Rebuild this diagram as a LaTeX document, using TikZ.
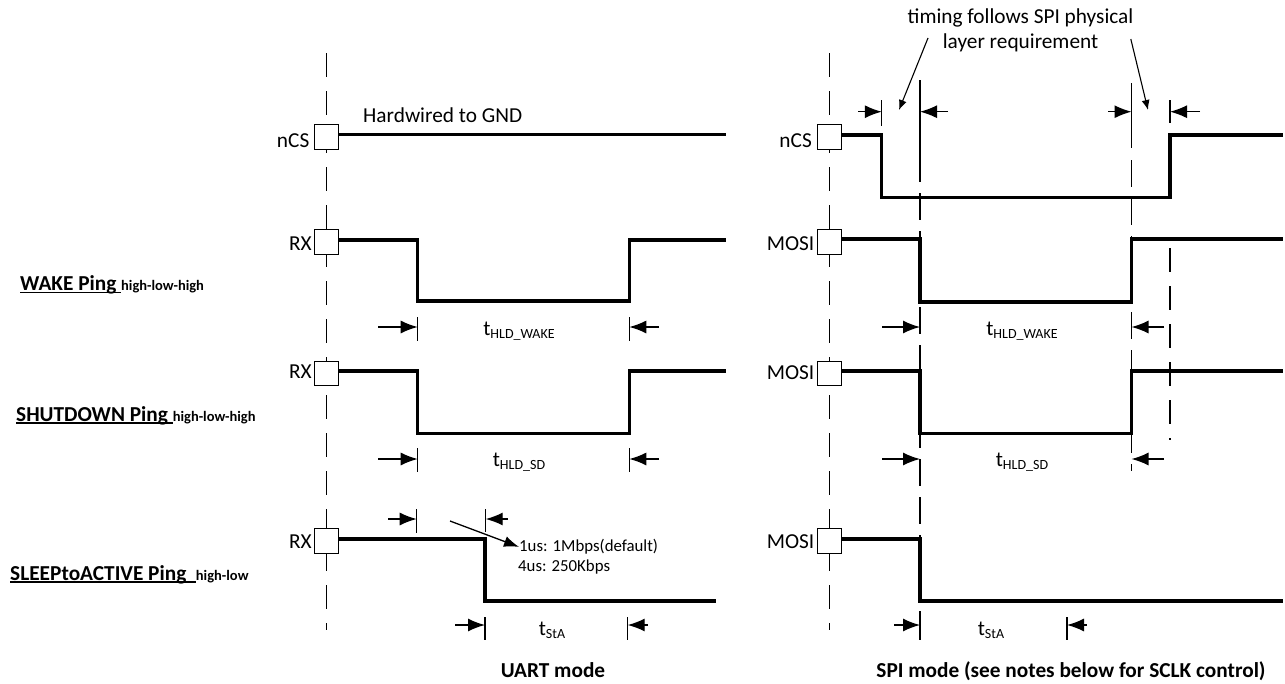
\documentclass[tikz,border=0pt]{standalone}
\usepackage{fontspec}
\setmainfont{Carlito}
\usetikzlibrary{arrows.meta}
\newsavebox\ulb
\newcommand\ulbox[1]{\sbox\ulb{#1}\rlap{\rule[-2.6pt]{\wd\ulb}{1.6pt}}\usebox\ulb}
\newcommand\tlabel[1]{t\raisebox{-3pt}{\fontsize{14}{16}\selectfont #1}}
\begin{document}
\begin{tikzpicture}[x=1pt,y=-1pt,
  sig/.style={line width=3.2pt, line join=miter},
  thinl/.style={line width=1.3pt},
  guide/.style={line width=1.3pt, dash pattern=on 24pt off 14pt},
  refl/.style={line width=1.3pt, dash pattern=on 27pt off 11pt},
  pin/.style={draw, line width=1.4pt, minimum size=24.5pt, inner sep=0pt, fill=white},
  darr/.style={line width=1.3pt, -{Latex[length=17pt,width=13pt]}},
  narr/.style={line width=1.1pt, -{Latex[length=10pt,width=8pt]}},
  every node/.style={font=\fontsize{21.3}{25.6}\selectfont, inner sep=0pt},
  bigb/.style={font=\fontsize{21.3}{25.6}\selectfont\bfseries},
]
\useasboundingbox (0,0) rectangle (1285,683);

% ---------------- guide lines ----------------
\draw[guide] (326.5,53) -- (326.5,630);
\draw[guide] (829.5,53) -- (829.5,630);
\draw[thinl] (920,80) -- (920,182);
\draw[refl] (920,193) -- (920,640);
\draw[thinl] (1131.5,83) -- (1131.5,148);
\draw[refl] (1131.5,160) -- (1131.5,471);
\draw[guide] (1170,248) -- (1170,440);

% ---------------- pins ----------------
\node[pin] (u1) at (326.5,137) {};
\node[pin] (u2) at (326.5,242) {};
\node[pin] (u3) at (326.5,373.5) {};
\node[pin] (u4) at (326.5,541) {};
\node[pin] (s1) at (829.5,137) {};
\node[pin] (s2) at (829.5,242) {};
\node[pin] (s3) at (829.5,373.5) {};
\node[pin] (s4) at (829.5,541) {};

\node[anchor=base east] (lu1) at (309.5,147) {nCS};
\node[anchor=base east] (lu2) at (312,250) {RX};
\node[anchor=base east] (lu3) at (312,378.5) {RX};
\node[anchor=base east] (lu4) at (312,548.5) {RX};
\node[anchor=base east] (ls1) at (812,147) {nCS};
\node[anchor=base east] (ls2) at (814.5,250) {MOSI};
\node[anchor=base east] (ls3) at (814.5,379) {MOSI};
\node[anchor=base east] (ls4) at (814.5,548) {MOSI};

% ---------------- UART signals ----------------
\draw[sig] (u1.east |- 0,134.5) -- (726,134.5);
\node[anchor=base west] (hw) at (363,122) {Hardwired to GND};
\draw[sig] (u2.east |- 0,240) -- (417.7,240) -- (417.7,301) -- (629.3,301) -- (629.3,240) -- (726,240);
\draw[sig] (u3.east |- 0,371) -- (417.7,371) -- (417.7,433.3) -- (629.3,433.3) -- (629.3,371) -- (726,371);
\draw[sig] (u4.east |- 0,539) -- (485,539) -- (485,601) -- (716,601);

% ---------------- SPI signals ----------------
\draw[sig] (s1.east |- 0,135) -- (881.8,135) -- (881.8,197.3) -- (1170,197.3) -- (1170,135) -- (1283,135);
\draw[sig] (s2.east |- 0,239) -- (920,239) -- (920,302) -- (1131.5,302) -- (1131.5,239) -- (1283,239);
\draw[sig] (s3.east |- 0,371) -- (920,371) -- (920,433.3) -- (1131.5,433.3) -- (1131.5,371) -- (1283,371);
\draw[sig] (s4.east |- 0,539) -- (920,539) -- (920,601) -- (1283,601);

% ---------------- ticks ----------------
\foreach \x/\a/\b in {417.7/317/341, 629.3/317/341, 417.7/448/472, 629.3/448/472,
  416.7/509/533, 485.7/509/532, 485/617/640, 627.7/617/640,
  881.8/100/126, 1170/100/123, 920/617/640, 1067/617/640}
  \draw[thinl] (\x,\a) -- (\x,\b);

% ---------------- dimension arrows ----------------
\foreach \xa/\xb/\y in {378/417.7/327, 659/629.3/327, 378/417.7/459, 659/629.3/459,
  388/416.7/519, 508/485.7/519, 455/485/625, 648/627.7/625,
  858/881.8/111.7, 948/920/111.7, 1108/1131.5/111.7, 1200/1170/111.7,
  882/920/327, 1164/1131.5/327, 882/920/459, 1164/1131.5/459,
  894/920/625, 1087/1067/625}
  \draw[darr] (\xa,\y) -- (\xb,\y);

% ---------------- timing labels ----------------
\node[anchor=base] (tw1) at (519,335) {\tlabel{HLD\_WAKE}};
\node[anchor=base] (ts1) at (519,466.7) {\tlabel{HLD\_SD}};
\node[anchor=base] (ta1) at (552,635) {\tlabel{StA}};
\node[anchor=base] (tw2) at (1022,335) {\tlabel{HLD\_WAKE}};
\node[anchor=base] (ts2) at (1022,466.7) {\tlabel{HLD\_SD}};
\node[anchor=base] (ta2) at (991,635) {\tlabel{StA}};

% ---------------- 1us note ----------------
\node[anchor=base west, font=\fontsize{16.8}{20}\selectfont] (note1) at (519,551.7) {1us: 1Mbps(default)};
\node[anchor=base west, font=\fontsize{16.8}{20}\selectfont] (note2) at (518,571.7) {4us: 250Kbps};
\coordinate (nfrom) at (450,521);
\draw[line width=1.3pt, -{Latex[length=15pt,width=11pt]}] (nfrom) -- (note1.west);

% ---------------- SPI annotation ----------------
\node[anchor=base] (ann1) at (1020.5,23.3) {timing follows SPI physical};
\node[anchor=base] (ann2) at (1020.5,48) {layer requirement};
\coordinate (a1s) at (928,38);
\coordinate (a1e) at (899,110);
\coordinate (a2s) at (1130.8,39);
\coordinate (a2e) at (1148,110);
\draw[narr] (a1s) -- (a1e);
\draw[narr] (a2s) -- (a2e);

% ---------------- row labels ----------------
\node[anchor=base west, bigb] (wake) at (20,290.7) {\ulbox{WAKE Ping\ }{\fontsize{14.5}{17}\selectfont high-low-high}};
\node[anchor=base west, bigb] (shut) at (16,421) {\ulbox{SHUTDOWN Ping\ }{\fontsize{14.5}{17}\selectfont high-low-high}};
\node[anchor=base west, bigb] (sleep) at (10,580) {\ulbox{SLEEPtoACTIVE Ping\ \ }{\fontsize{14.5}{17}\selectfont high-low}};

% ---------------- mode labels ----------------
\node[anchor=base, bigb] (uart) at (553,677) {UART mode};
\node[anchor=base, bigb] (spi) at (1071,677) {SPI mode (see notes below for SCLK control)};
\end{tikzpicture}
\end{document}
